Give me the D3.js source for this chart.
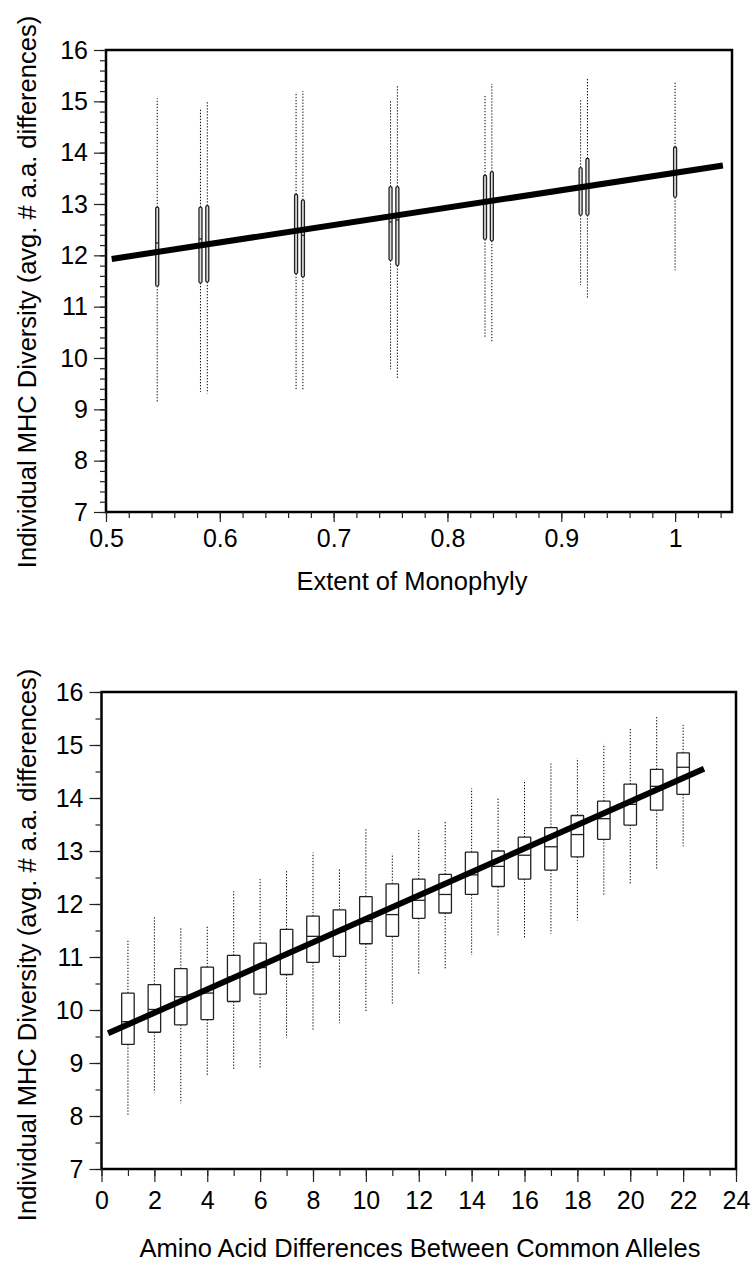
<!DOCTYPE html>
<html>
<head>
<meta charset="utf-8">
<script src="https://cdn.jsdelivr.net/npm/d3@7"></script>
<style>
  body { margin: 0; background: #fff; }
  svg { display: block; font-family: "Liberation Sans", Arial, Helvetica, sans-serif; }
</style>
</head>
<body>
<div class="chart"></div>
<script>
// top panel: extent of monophyly
const monoX   = [0.545, 0.583, 0.589, 0.667, 0.673, 0.750, 0.756, 0.833, 0.839, 0.917, 0.923, 1.000];
const monoLo  = [9.14, 9.34, 9.31, 9.37, 9.39, 9.78, 9.61, 10.41, 10.31, 11.42, 11.17, 11.71];
const monoQ1  = [11.40, 11.46, 11.48, 11.64, 11.58, 11.90, 11.80, 12.31, 12.28, 12.78, 12.78, 13.13];
const monoMed = [12.24, 12.32, 12.24, 12.49, 12.39, 12.65, 12.69, 13.04, 13.04, 13.34, 13.37, 13.61];
const monoQ3  = [12.94, 12.94, 12.97, 13.19, 13.08, 13.34, 13.34, 13.56, 13.63, 13.71, 13.89, 14.11];
const monoHi  = [15.06, 14.85, 15.00, 15.18, 15.20, 15.03, 15.32, 15.12, 15.34, 15.04, 15.45, 15.38];
const monoFitX = [0.505, 1.042];
const monoFitY = [11.93, 13.75];
const monoTicks = [0.5, 0.6, 0.7, 0.8, 0.9, 1];

// bottom panel: amino acid differences
const aaX   = [1, 2, 3, 4, 5, 6, 7, 8, 9, 10, 11, 12, 13, 14, 15, 16, 17, 18, 19, 20, 21, 22];
const aaLo  = [8.00, 8.44, 8.24, 8.75, 8.89, 8.89, 9.47, 9.62, 9.75, 9.98, 10.12, 10.67, 10.76, 11.04, 11.41, 11.34, 11.44, 11.69, 12.16, 12.37, 12.64, 13.09];
const aaQ1  = [9.35, 9.58, 9.72, 9.82, 10.16, 10.30, 10.67, 10.90, 11.01, 11.25, 11.39, 11.73, 11.83, 12.18, 12.33, 12.47, 12.64, 12.89, 13.22, 13.49, 13.77, 14.07];
const aaMed = [9.78, 10.01, 10.25, 10.32, 10.62, 10.80, 11.05, 11.39, 11.48, 11.67, 11.80, 12.07, 12.18, 12.55, 12.71, 12.92, 13.08, 13.31, 13.61, 13.88, 14.22, 14.58];
const aaQ3  = [10.32, 10.48, 10.78, 10.81, 11.03, 11.26, 11.52, 11.77, 11.89, 12.14, 12.38, 12.47, 12.56, 12.98, 13.00, 13.26, 13.44, 13.67, 13.94, 14.26, 14.54, 14.85];
const aaHi  = [11.31, 11.75, 11.56, 11.60, 12.24, 12.47, 12.65, 12.97, 12.68, 13.42, 12.95, 13.39, 13.56, 14.18, 14.00, 14.34, 14.65, 14.75, 15.02, 15.33, 15.55, 15.38];
const aaFitX = [0.25, 22.79];
const aaFitY = [9.56, 14.55];
const aaTicks = [0, 2, 4, 6, 8, 10, 12, 14, 16, 18, 20, 22, 24];

const yTicks = [7, 8, 9, 10, 11, 12, 13, 14, 15, 16];
const yTitle = 'Individual MHC Diversity (avg. # a.a. differences)';

const W = 752, H = 1262;
const svg = d3.select('.chart').append('svg')
  .attr('width', W)
  .attr('height', H);

function panel(o) {
  const x = d3.scaleLinear().domain(o.xDomain).range([o.left, o.right]);
  const y = d3.scaleLinear().domain([7, 16]).range([o.bottom, o.top]);
  const g = svg.append('g');

  const rows = o.xs.map((v, i) => ({x: v, lo: o.lo[i], q1: o.q1[i], med: o.med[i], q3: o.q3[i], hi: o.hi[i]}));

  // whiskers (dotted)
  g.selectAll('.whisk-up').data(rows).enter().append('line')
    .attr('x1', d => x(d.x)).attr('x2', d => x(d.x))
    .attr('y1', d => y(d.q3)).attr('y2', d => y(d.hi))
    .attr('stroke', '#000').attr('stroke-width', 1).attr('stroke-dasharray', '1.3,1.7');
  g.selectAll('.whisk-dn').data(rows).enter().append('line')
    .attr('x1', d => x(d.x)).attr('x2', d => x(d.x))
    .attr('y1', d => y(d.q1)).attr('y2', d => y(d.lo))
    .attr('stroke', '#000').attr('stroke-width', 1).attr('stroke-dasharray', '1.3,1.7');

  // boxes
  g.selectAll('.box').data(rows).enter().append('rect')
    .attr('x', d => x(d.x) - o.boxW / 2)
    .attr('y', d => y(d.q3))
    .attr('width', o.boxW)
    .attr('height', d => y(d.q1) - y(d.q3))
    .attr('rx', o.boxR)
    .attr('fill', o.boxFill).attr('stroke', '#222').attr('stroke-width', 1.3);
  g.selectAll('.med').data(rows).enter().append('line')
    .attr('x1', d => x(d.x) - o.boxW / 2).attr('x2', d => x(d.x) + o.boxW / 2)
    .attr('y1', d => y(d.med)).attr('y2', d => y(d.med))
    .attr('stroke', '#222').attr('stroke-width', 1.3);

  // fitted line
  g.append('path')
    .datum(o.fitX.map((v, i) => [v, o.fitY[i]]))
    .attr('d', d3.line().x(d => x(d[0])).y(d => y(d[1])))
    .attr('stroke', '#000').attr('stroke-width', 6).attr('fill', 'none');

  // frame
  g.append('rect')
    .attr('x', o.left).attr('y', o.top)
    .attr('width', o.right - o.left).attr('height', o.bottom - o.top)
    .attr('fill', 'none').attr('stroke', '#000').attr('stroke-width', 2.5);

  // x axis: minor then major ticks
  const xa = g.append('g').attr('transform', `translate(0,${o.bottom})`);
  xa.call(d3.axisBottom(x).tickValues(d3.range(o.xDomain[0], o.xDomain[1] + 1e-9, o.xMinor)).tickSize(o.xMinorLen).tickFormat(''));
  xa.append('g').call(d3.axisBottom(x).tickValues(o.xTicks).tickSize(o.xMajorLen).tickPadding(o.xPad).tickFormat(o.xFmt));
  xa.selectAll('.domain').remove();
  xa.selectAll('line').attr('stroke', '#222').attr('stroke-width', 1.2);
  xa.selectAll('text').attr('font-size', 25).attr('fill', '#000').attr('font-family', null);

  // y axis
  const ya = g.append('g').attr('transform', `translate(${o.left},0)`);
  ya.call(d3.axisLeft(y).tickValues(d3.range(7, 16 + 1e-9, o.yMinor)).tickSize(6).tickFormat(''));
  ya.append('g').call(d3.axisLeft(y).tickValues(yTicks).tickSize(12).tickPadding(6).tickFormat(d3.format('d')));
  ya.selectAll('.domain').remove();
  ya.selectAll('line').attr('stroke', '#222').attr('stroke-width', 1.2);
  ya.selectAll('text').attr('font-size', 25).attr('fill', '#000').attr('font-family', null);

  // titles
  g.append('text')
    .attr('x', o.xTitlePos[0]).attr('y', o.xTitlePos[1])
    .attr('text-anchor', 'middle').attr('font-size', 25.5)
    .text(o.xTitle);
  g.append('text')
    .attr('transform', `translate(${o.yTitlePos[0]},${o.yTitlePos[1]}) rotate(-90)`)
    .attr('text-anchor', 'middle').attr('font-size', 25.5)
    .text(yTitle);
}

panel({
  xDomain: [0.5, 1.05], left: 106, right: 732, top: 50, bottom: 512,
  xs: monoX, lo: monoLo, q1: monoQ1, med: monoMed, q3: monoQ3, hi: monoHi,
  fitX: monoFitX, fitY: monoFitY,
  boxW: 3, boxR: 1.5, boxFill: '#ddd',
  xTicks: monoTicks, xMinor: 0.02, xMinorLen: 6, xMajorLen: 10, xPad: 7,
  xFmt: d => d3.format('')(+d.toFixed(2)),
  yMinor: 0.2,
  xTitle: 'Extent of Monophyly', xTitlePos: [412, 590],
  yTitlePos: [36, 292]
});

panel({
  xDomain: [0, 24], left: 101.5, right: 736, top: 692, bottom: 1169,
  xs: aaX, lo: aaLo, q1: aaQ1, med: aaMed, q3: aaQ3, hi: aaHi,
  fitX: aaFitX, fitY: aaFitY,
  boxW: 12.5, boxR: 0.5, boxFill: '#fff',
  xTicks: aaTicks, xMinor: 1, xMinorLen: 7, xMajorLen: 13, xPad: 9,
  xFmt: d3.format('d'),
  yMinor: 0.5,
  xTitle: 'Amino Acid Differences Between Common Alleles', xTitlePos: [420, 1257],
  yTitlePos: [36, 945]
});
</script>
</body>
</html>
